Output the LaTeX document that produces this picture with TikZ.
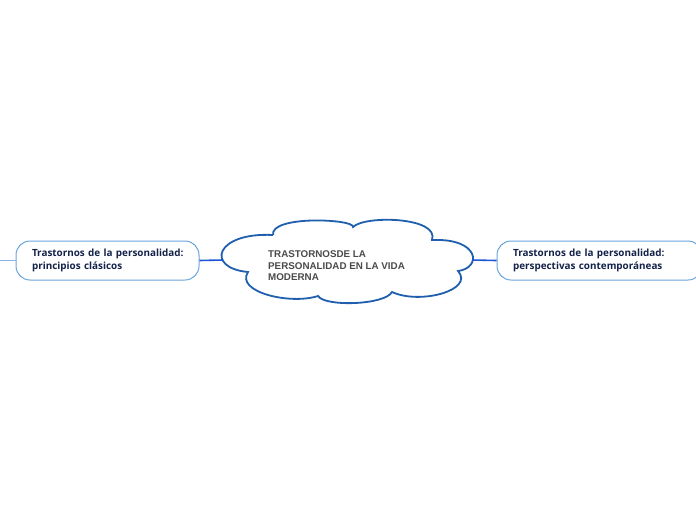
\documentclass[tikz,border=0pt]{standalone}
\usepackage{fontspec}
\setmainfont{Open Sans}
\newfontfamily\cloudfont{Liberation Sans}
\usepackage{xcolor}
\usetikzlibrary{positioning,calc}
\definecolor{cloudline}{HTML}{1F5FAE}
\definecolor{linkblue}{HTML}{1A56D6}
\definecolor{boxline}{HTML}{6AA4DC}
\definecolor{stubblue}{HTML}{8AB0E8}
\definecolor{navytext}{HTML}{14224A}
\definecolor{graytext}{HTML}{4A4A4A}
\begin{document}
\begin{tikzpicture}[x=1pt,y=-1pt,
    topicbox/.style={draw=boxline, line width=1pt, rounded corners=14pt, fill=white,
        minimum height=39pt, inner xsep=16pt, inner ysep=0pt, align=left,
        font=\bfseries\fontsize{9.9}{12.5}\selectfont, text=navytext},
    link/.style={draw=linkblue, line width=1.6pt},
    cloudedge/.style={draw=cloudline, line width=1.8pt, fill=white}]
    \useasboundingbox (0,0) rectangle (696,520);

    % central cloud
    \coordinate (A) at (273,235);
    \coordinate (B) at (353,227);
    \coordinate (C) at (432,240);
    \coordinate (D) at (458,271);
    \coordinate (E) at (392,292);
    \coordinate (F) at (318,296);
    \coordinate (G) at (248,272);
    \path[cloudedge] (A) .. controls (270,215) and (355,219) .. (B)
        .. controls (365,215) and (440,217) .. (C)
        .. controls (480,238) and (482,268) .. (D)
        .. controls (475,290) and (420,305) .. (E)
        .. controls (385,305) and (325,307) .. (F)
        .. controls (290,305) and (235,292) .. (G)
        .. controls (205,268) and (215,232) .. (A);
    \coordinate (cloudW) at (223,260);
    \coordinate (cloudE) at (472,260);
    \node[anchor=west, inner sep=0pt, align=left, text=graytext,
        font=\cloudfont\bfseries\fontsize{9.8}{11.6}\selectfont] (central) at (268,266)
        {TRASTORNOSDE LA\\PERSONALIDAD EN LA VIDA\\MODERNA};

    % left topic
    \node[topicbox, text width=151pt] (clasicos) at (107.5,260.5)
        {\mbox{Trastornos de la personalidad:}\\\mbox{principios clásicos}};
    \coordinate (stub) at (0,260.5);

    % right topic
    \node[topicbox, text width=173pt] (contemp) at (599.5,260.5)
        {\mbox{Trastornos de la personalidad:}\\\mbox{perspectivas contemporáneas}};

    % links
    \draw[link] (clasicos.east) -- (cloudW);
    \draw[link] (cloudE) -- (contemp.west);
    \draw[draw=stubblue, line width=1.6pt] (stub) -- (clasicos.west);
\end{tikzpicture}
\end{document}
